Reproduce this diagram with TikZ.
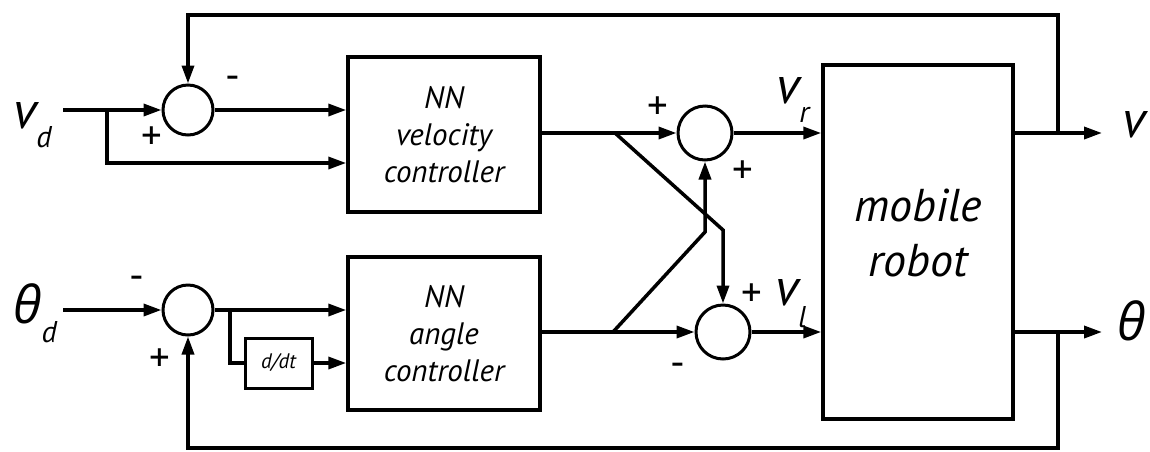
\documentclass[tikz,border=0pt]{standalone}
\usepackage{fontspec}
\setmainfont{PT Sans}
\newfontfamily\grkfont{Open Sans}
\usetikzlibrary{arrows.meta}
\newcommand\fBig{\fontsize{52}{52}\selectfont\itshape}
\newcommand\fSub{\fontsize{30}{30}\selectfont\itshape}
\newcommand\fBox{\fontsize{31}{37}\selectfont\itshape}
\newcommand\fRob{\fontsize{46}{55}\selectfont\itshape}
\newcommand\fSign{\fontsize{41}{41}\selectfont}
\newcommand\fSmall{\fontsize{21}{21}\selectfont\itshape}
\begin{document}
\begin{tikzpicture}[x=1pt,y=-1pt,
  line/.style={line width=3.5pt},
  arr/.style={line width=3.5pt,-{Triangle[length=18pt,width=12pt]}},
  sumnode/.style={circle,draw,line width=3pt,minimum size=50pt,inner sep=0pt},
  blk/.style={draw,line width=3.5pt,align=center,font=\fBox,inner sep=0pt},
  sign/.style={font=\fSign,inner sep=0pt},
  lbl/.style={inner sep=0pt,anchor=base west}]
\useasboundingbox (0,0) rectangle (1150,451);

\node[sumnode] (s1) at (188,110) {};
\node[sumnode] (s2) at (188,310) {};
\node[sumnode,minimum size=54pt] (s3) at (705,133) {};
\node[sumnode,minimum size=54pt] (s4) at (723,332) {};
\node[blk,minimum width=192pt,minimum height=155pt] (b1) at (444,134.5) {NN\\velocity\\controller};
\node[blk,minimum width=192pt,minimum height=153pt] (b2) at (444,333.5) {NN\\angle\\controller};
\node[blk,line width=3pt,minimum width=67pt,minimum height=50pt,font=\fSmall] (dd) at (278.5,363) {d/dt};
\node[blk,minimum width=190pt,minimum height=354pt] (rob) at (918,242) {};
\node[font=\fRob,align=center,inner sep=0pt] (robtxt) at ([yshift=9pt]rob.center) {mobile\\robot};

\coordinate (vin) at (63,110);
\coordinate (j1) at (107,110);
\coordinate (j1b) at (107,163);
\coordinate (tin) at (63,310);
\coordinate (j2) at (230,310);
\coordinate (j2b) at (230,363);
\coordinate (j3) at (615,133);
\coordinate (k3) at (723,230);
\coordinate (j4) at (613,332);
\coordinate (k4) at (705,232);
\coordinate (j5) at (1058,133);
\coordinate (j6) at (1058,332);
\coordinate (o1) at (1102,133);
\coordinate (o2) at (1102,332);
\coordinate (t1) at (1058,15);
\coordinate (t2) at (1058,448);

\draw[arr] (vin) -- (s1);
\draw[arr] (j1) -- (j1b) -- (j1b -| b1.west);
\draw[arr] (s1) -- (s1 -| b1.west);
\draw[arr] (tin) -- (s2);
\draw[arr] (s2) -- (s2 -| b2.west);
\draw[line] (j2) -- (j2b) -- (dd.west);
\draw[arr] (dd) -- (dd -| b2.west);
\draw[arr] (b1.east |- j3) -- (s3);
\draw[arr] (j3) -- (k3) -- (s4.north);
\draw[arr] (b2.east |- j4) -- (s4);
\draw[arr] (j4) -- (k4) -- (s3.south);
\draw[arr] (s3) -- (s3 -| rob.west);
\draw[arr] (s4) -- (s4 -| rob.west);
\draw[arr] (rob.east |- j5) -- (o1);
\draw[arr] (rob.east |- j6) -- (o2);
\draw[arr] (j5) -- (t1) -| (s1.north);
\draw[arr] (j6) -- (t2) -| (s2.south);

\node[lbl,font=\fBig] (lvd) at (13,128) {v\raisebox{-19pt}{\fSub d}};
\node[lbl,font=\fBig] (ltd) at (13,323) {{\grkfont θ}\raisebox{-19pt}{\fSub d}};
\node[lbl,font=\fBig] (lvr) at (776,103) {v\raisebox{-19pt}{\fSub r}};
\node[lbl,font=\fBig] (lvl) at (775,305) {v\raisebox{-22pt}{\fSub l}};
\node[lbl,font=\fBig] (lvo) at (1122,137) {v};
\node[lbl,font=\fBig] (lto) at (1117,340) {\grkfont θ};

\node[sign] (p1) at (233,83) {-};
\node[sign] (p2) at (152,138) {+};
\node[sign] (p3) at (137,283) {-};
\node[sign] (p4) at (160,360) {+};
\node[sign] (p5) at (658,108) {+};
\node[sign] (p6) at (743,172) {+};
\node[sign] (p7) at (752,295) {+};
\node[sign] (p8) at (678,370) {-};
\end{tikzpicture}
\end{document}
